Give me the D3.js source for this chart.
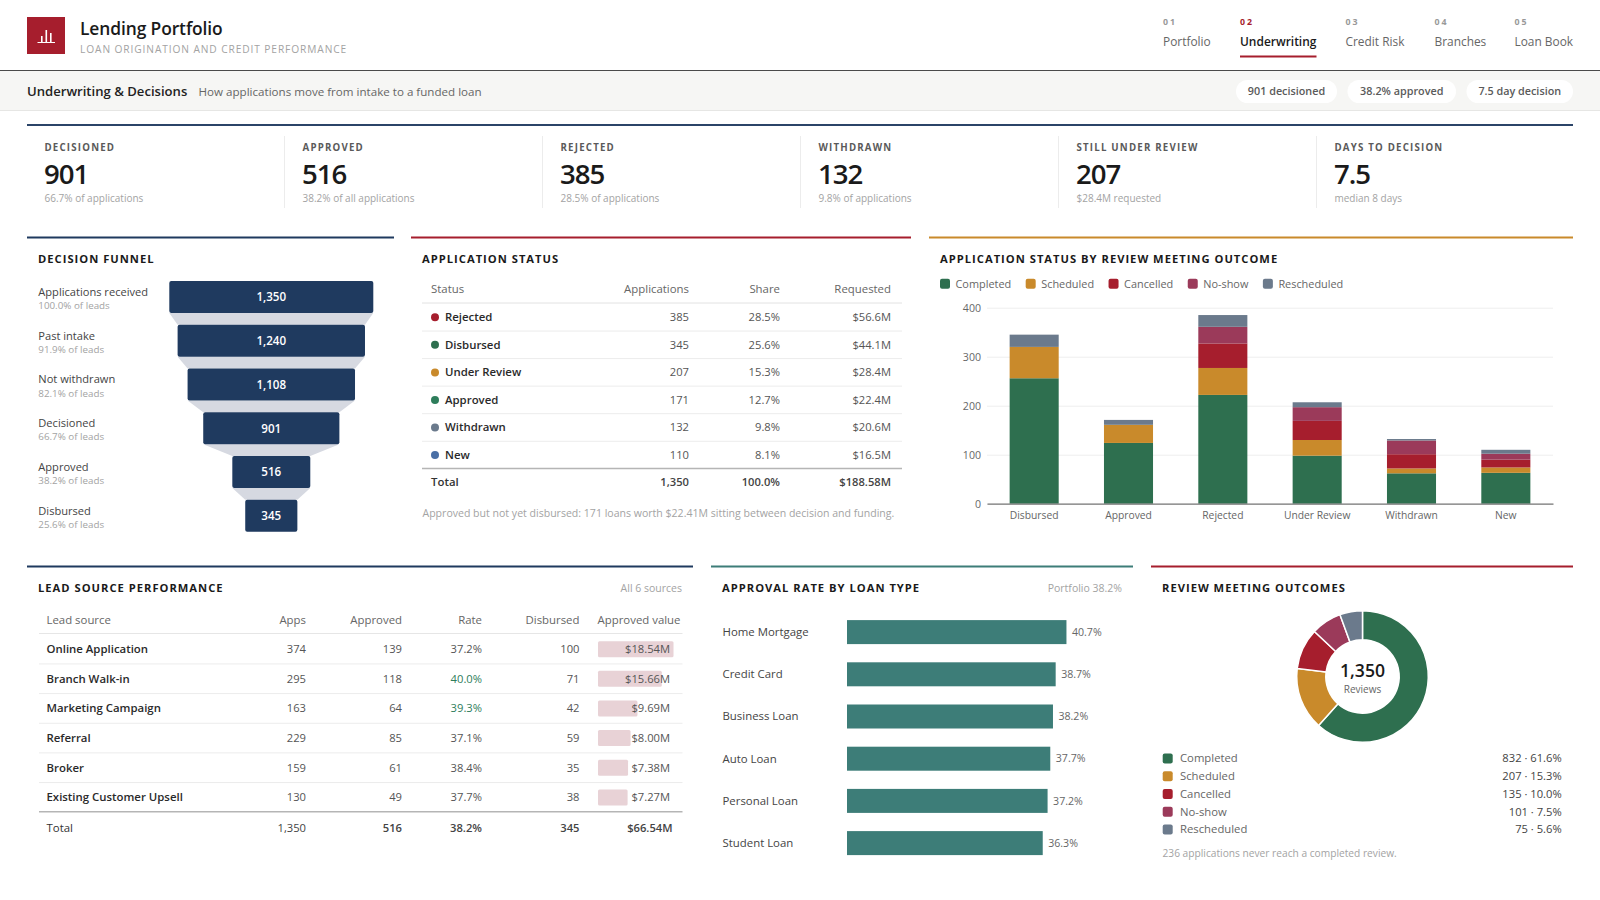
<!DOCTYPE html>
<html>
<head>
<meta charset="utf-8">
<title>Lending Portfolio</title>
<script src="https://cdn.jsdelivr.net/npm/d3@7"></script>
<style>
  html, body { margin: 0; padding: 0; background: #fff; }
  svg { display: block; font-family: "Open Sans", "Noto Sans", sans-serif; }
</style>
</head>
<body>
<svg id="page" width="1600" height="900"></svg>
<script>
// ---- data ----
var navLabels = ["Portfolio", "Underwriting", "Credit Risk", "Branches", "Loan Book"];
var navNumbers = ["01", "02", "03", "04", "05"];
var chips = ["901 decisioned", "38.2% approved", "7.5 day decision"];

var kpiLabels = ["DECISIONED", "APPROVED", "REJECTED", "WITHDRAWN", "STILL UNDER REVIEW", "DAYS TO DECISION"];
var kpiValues = ["901", "516", "385", "132", "207", "7.5"];
var kpiNotes = ["66.7% of applications", "38.2% of all applications", "28.5% of applications", "9.8% of applications", "$28.4M requested", "median 8 days"];

var funnelStages = ["Applications received", "Past intake", "Not withdrawn", "Decisioned", "Approved", "Disbursed"];
var funnelValues = [1350, 1240, 1108, 901, 516, 345];
var funnelShares = ["100.0%", "91.9%", "82.1%", "66.7%", "38.2%", "25.6%"];

var statusNames = ["Rejected", "Disbursed", "Under Review", "Approved", "Withdrawn", "New"];
var statusApps = ["385", "345", "207", "171", "132", "110"];
var statusShare = ["28.5%", "25.6%", "15.3%", "12.7%", "9.8%", "8.1%"];
var statusRequested = ["$56.6M", "$44.1M", "$28.4M", "$22.4M", "$20.6M", "$16.5M"];
var statusColors = ["#a61e2d", "#2e6f4f", "#c98a2b", "#2e7d5b", "#6b7a8c", "#4a6fa5"];

var outcomeNames = ["Completed", "Scheduled", "Cancelled", "No-show", "Rescheduled"];
var outcomeColors = ["#2e6f4f", "#c98a2b", "#a61e2d", "#9b3a5a", "#6b7a8c"];
var stackCategories = ["Disbursed", "Approved", "Rejected", "Under Review", "Withdrawn", "New"];
var completedCounts = [256, 124, 222, 98, 62, 63];
var scheduledCounts = [64, 37, 55, 32, 10, 11];
var cancelledCounts = [0, 0, 50, 39, 29, 16];
var noShowCounts = [0, 0, 34, 28, 28, 12];
var rescheduledCounts = [25, 10, 24, 10, 3, 8];
var stackTicks = [0, 100, 200, 300, 400];

var leadSources = ["Online Application", "Branch Walk-in", "Marketing Campaign", "Referral", "Broker", "Existing Customer Upsell"];
var leadApps = ["374", "295", "163", "229", "159", "130"];
var leadApproved = ["139", "118", "64", "85", "61", "49"];
var leadRate = ["37.2%", "40.0%", "39.3%", "37.1%", "38.4%", "37.7%"];
var leadDisbursed = ["100", "71", "42", "59", "35", "38"];
var leadValue = [18.54, 15.66, 9.69, 8.00, 7.38, 7.27];

var loanTypes = ["Home Mortgage", "Credit Card", "Business Loan", "Auto Loan", "Personal Loan", "Student Loan"];
var loanRates = [40.7, 38.7, 38.2, 37.7, 37.2, 36.3];

var donutCounts = [832, 207, 135, 101, 75];
var donutShares = ["61.6%", "15.3%", "10.0%", "7.5%", "5.6%"];

// ---- colours ----
var NAVY = "#1f3a5f", CRIMSON = "#a61e2d", AMBER = "#c98a2b", TEAL = "#3d7d78";
var INK = "#1a1a1a", BODY = "#444", MUTED = "#666", FAINT = "#a3a3a3", RULE = "#ececec";

var svg = d3.select("#page");

// small helper so every label is written the same way
function label(g, x, y, s, o) {
  o = o || {};
  return g.append("text")
    .attr("x", x).attr("y", y).attr("dy", "0.35em")
    .attr("text-anchor", o.anchor || "start")
    .attr("font-size", o.size || 12)
    .attr("font-weight", o.weight || 400)
    .attr("fill", o.fill || BODY)
    .attr("letter-spacing", o.spacing || 0)
    .text(s);
}

function hline(g, x1, x2, y, color, w) {
  g.append("line").attr("x1", x1).attr("x2", x2).attr("y1", y).attr("y2", y)
    .attr("stroke", color).attr("stroke-width", w || 1);
}

function card(x1, x2, y, color, title, note) {
  hline(svg, x1, x2, y, color, 2);
  label(svg, x1 + 11, y + 22, title, {size: 11.2, weight: 700, fill: INK, spacing: 1});
  if (note) label(svg, x2 - 11, y + 22, note, {size: 10.5, fill: FAINT, anchor: "end"});
}

// ---- header ----
var head = svg.append("g");
head.append("rect").attr("x", 27).attr("y", 17).attr("width", 38).attr("height", 37).attr("fill", CRIMSON);
var iconBars = [6, 12, 9];
iconBars.forEach(function(h, i) {
  head.append("rect").attr("x", 41 + i * 4.5).attr("y", 42 - h).attr("width", 1.6).attr("height", h).attr("fill", "#fff");
});
hline(head, 37.5, 55, 42.5, "#fff", 1);
label(head, 80, 29, "Lending Portfolio", {size: 17.4, weight: 600, fill: INK, spacing: -0.1});
label(head, 80, 49, "LOAN ORIGINATION AND CREDIT PERFORMANCE", {size: 10.2, fill: FAINT, spacing: 0.9});

var navX = [1163, 1240, 1345.5, 1434.5, 1514.5];
navLabels.forEach(function(n, i) {
  var on = i === 1;
  label(head, navX[i], 22, navNumbers[i], {size: 8.8, weight: 700, fill: on ? CRIMSON : "#999", spacing: 2});
  label(head, navX[i], 41.5, n, {size: on ? 11.95 : 11.9, weight: on ? 600 : 400, fill: on ? INK : MUTED});
});
hline(head, 1240, 1316.5, 56.5, CRIMSON, 2);
hline(svg, 0, 1600, 70.5, "#4a4a4a", 1);

// ---- sub header ----
var sub = svg.append("g");
sub.append("rect").attr("x", 0).attr("y", 71).attr("width", 1600).attr("height", 39).attr("fill", "#f6f6f4");
hline(sub, 0, 1600, 110.5, "#e6e6e4", 1);
label(sub, 27, 91.5, "Underwriting & Decisions", {size: 13.1, weight: 600, fill: "#222"});
label(sub, 198.5, 91.5, "How applications move from intake to a funded loan", {size: 11.6, fill: MUTED});
var chipX = [[1236, 1337], [1347.5, 1456], [1466.5, 1573]];
chips.forEach(function(c, i) {
  sub.append("rect").attr("x", chipX[i][0]).attr("y", 80).attr("width", chipX[i][1] - chipX[i][0]).attr("height", 23)
    .attr("rx", 11.5).attr("fill", "#fff");
  label(sub, (chipX[i][0] + chipX[i][1]) / 2, 91.5, c, {size: 10.8, weight: 600, fill: "#5a5a5a", anchor: "middle"});
});

// ---- kpi row ----
var kpiG = svg.append("g");
hline(kpiG, 27, 1573, 125, "#2b4468", 2);
kpiLabels.forEach(function(k, i) {
  var x = 44.5 + i * 258;
  label(kpiG, x, 147.5, k, {size: 9.7, weight: 700, fill: "#5a5a5a", spacing: 1.2});
  label(kpiG, x - 0.5, 174.2, kpiValues[i], {size: 27.6, weight: 600, fill: INK, spacing: -1});
  label(kpiG, x, 198, kpiNotes[i], {size: 10, fill: FAINT});
  if (i > 0) kpiG.append("line").attr("x1", x - 18).attr("x2", x - 18).attr("y1", 136).attr("y2", 208).attr("stroke", "#ececec");
});

// ---- decision funnel ----
card(27, 394, 237.5, NAVY, "DECISION FUNNEL");
var funnelG = svg.append("g");
var funnelW = d3.scaleLinear().domain([0, 1350]).range([0, 204]);
var funnelY = d3.scaleBand().domain(funnelStages).range([281, 281 + 43.75 * 6 - 11.75]).paddingInner(11.75 / 43.75).paddingOuter(0);
var funnelCx = 271.3;
var trapezoid = d3.line();
funnelValues.forEach(function(v, i) {
  if (i === funnelValues.length - 1) return;
  var yTop = funnelY(funnelStages[i]) + funnelY.bandwidth();
  var yBot = funnelY(funnelStages[i + 1]);
  var a = funnelW(v) / 2, b = funnelW(funnelValues[i + 1]) / 2;
  funnelG.append("path").attr("fill", "#d6d9e1")
    .attr("d", trapezoid([[funnelCx - a, yTop], [funnelCx + a, yTop], [funnelCx + b, yBot], [funnelCx - b, yBot]]) + "Z");
});
funnelG.selectAll(".fbar").data(funnelValues).enter().append("rect")
  .attr("class", "fbar")
  .attr("x", function(d) { return funnelCx - funnelW(d) / 2; })
  .attr("y", function(d, i) { return funnelY(funnelStages[i]); })
  .attr("width", function(d) { return funnelW(d); })
  .attr("height", funnelY.bandwidth())
  .attr("rx", 2).attr("fill", NAVY);
funnelValues.forEach(function(v, i) {
  var mid = funnelY(funnelStages[i]) + funnelY.bandwidth() / 2;
  label(funnelG, funnelCx, mid + 0.4, d3.format(",")(v), {size: 11.6, weight: 600, fill: "#fff", anchor: "middle"});
  label(funnelG, 38.3, mid - 5, funnelStages[i], {size: 11.1, fill: BODY});
  label(funnelG, 38.3, mid + 8.7, funnelShares[i] + " of leads", {size: 9.8, fill: FAINT});
});

// ---- application status table ----
card(411, 911, 237.5, CRIMSON, "APPLICATION STATUS");
var stG = svg.append("g");
var stRowY = d3.scaleBand().domain(statusNames).range([303.5, 303.5 + 27.55 * 6]);
var stRight = [689, 780, 891];
label(stG, 431, 289.5, "Status", {size: 11.4, fill: MUTED});
["Applications", "Share", "Requested"].forEach(function(h, i) {
  label(stG, stRight[i], 289.5, h, {size: 11.4, fill: MUTED, anchor: "end"});
});
hline(stG, 422, 902, 303, "#e2e2e2", 1);
statusNames.forEach(function(n, i) {
  var y = stRowY(n) + stRowY.bandwidth() / 2;
  stG.append("circle").attr("cx", 435).attr("cy", y).attr("r", 4).attr("fill", statusColors[i]);
  label(stG, 445, y, n, {size: 11.4, weight: 600, fill: "#2a2a2a"});
  label(stG, stRight[0], y, statusApps[i], {size: 11.2, fill: "#555", anchor: "end"});
  label(stG, stRight[1], y, statusShare[i], {size: 11.2, fill: "#555", anchor: "end"});
  label(stG, stRight[2], y, statusRequested[i], {size: 11.2, fill: "#555", anchor: "end"});
  if (i < statusNames.length - 1) hline(stG, 422, 902, stRowY(n) + stRowY.bandwidth(), RULE, 1);
});
hline(stG, 422, 902, 468.5, "#b5b5b5", 1.5);
label(stG, 431, 482, "Total", {size: 11.4, weight: 600, fill: "#333"});
label(stG, stRight[0], 482, "1,350", {size: 11.2, weight: 600, fill: "#444", anchor: "end"});
label(stG, stRight[1], 482, "100.0%", {size: 11.2, weight: 600, fill: "#444", anchor: "end"});
label(stG, stRight[2], 482, "$188.58M", {size: 11.2, weight: 600, fill: "#444", anchor: "end"});
label(stG, 422.5, 513, "Approved but not yet disbursed: 171 loans worth $22.41M sitting between decision and funding.", {size: 10.55, fill: FAINT});

// ---- stacked bars ----
card(929, 1573, 237.5, AMBER, "APPLICATION STATUS BY REVIEW MEETING OUTCOME");
var chartG = svg.append("g");
var legendX = 940;
outcomeNames.forEach(function(n, i) {
  chartG.append("rect").attr("x", legendX).attr("y", 278.7).attr("width", 10).attr("height", 10).attr("rx", 2).attr("fill", outcomeColors[i]);
  var t = label(chartG, legendX + 15.5, 283.7, n, {size: 10.9, fill: MUTED});
  legendX += 15.5 + t.node().getComputedTextLength() + 14.5;
});
var stackRows = stackCategories.map(function(c, i) {
  return {cat: c, Completed: completedCounts[i], Scheduled: scheduledCounts[i], Cancelled: cancelledCounts[i], "No-show": noShowCounts[i], Rescheduled: rescheduledCounts[i]};
});
var xStack = d3.scaleBand().domain(stackCategories).range([987, 1553]).paddingInner(0.48).paddingOuter(0.24);
var yStack = d3.scaleLinear().domain([0, 400]).range([503.7, 307.7]);
var yAxis = chartG.append("g").attr("transform", "translate(987,0)")
  .call(d3.axisLeft(yStack).tickValues(stackTicks).tickSize(-566).tickPadding(6))
  .attr("font-family", null);
yAxis.select(".domain").remove();
yAxis.selectAll("line").attr("stroke", "#eeeeee");
yAxis.selectAll("text").attr("font-size", 10.6).attr("fill", "#666");
chartG.append("g").selectAll("g").data(d3.stack().keys(outcomeNames)(stackRows)).enter().append("g")
  .attr("fill", function(d, i) { return outcomeColors[i]; })
  .selectAll("rect").data(function(d) { return d; }).enter().append("rect")
  .attr("x", function(d) { return xStack(d.data.cat); })
  .attr("y", function(d) { return yStack(d[1]); })
  .attr("width", xStack.bandwidth())
  .attr("height", function(d) { return yStack(d[0]) - yStack(d[1]); });
var xAxis = chartG.append("g").attr("transform", "translate(0,503.7)")
  .call(d3.axisBottom(xStack).tickSize(0).tickPadding(8))
  .attr("font-family", null);
xAxis.select(".domain").attr("stroke", "#777").attr("stroke-width", 1.2);
xAxis.selectAll("text").attr("font-size", 10.3).attr("fill", "#666");

// ---- lead source table ----
card(27, 693, 566.5, NAVY, "LEAD SOURCE PERFORMANCE", "All 6 sources");
var leadG = svg.append("g");
var leadRowY = d3.scaleBand().domain(leadSources).range([634.3, 634.3 + 29.65 * 6]);
var leadRight = [306, 402, 482, 579.5];
var leadBar = d3.scaleLinear().domain([0, 18.54]).range([0, 75.5]);
label(leadG, 46.5, 620, "Lead source", {size: 11.4, fill: MUTED});
["Apps", "Approved", "Rate", "Disbursed"].forEach(function(h, i) {
  label(leadG, leadRight[i], 620, h, {size: 11.4, fill: MUTED, anchor: "end"});
});
label(leadG, 680.5, 620, "Approved value", {size: 11.4, fill: MUTED, anchor: "end"});
hline(leadG, 39, 682.5, 633.5, "#e6e6e6", 1);
leadSources.forEach(function(n, i) {
  var top = leadRowY(n), y = top + leadRowY.bandwidth() / 2;
  leadG.append("rect").attr("x", 598).attr("y", y - 8).attr("width", leadBar(leadValue[i])).attr("height", 16)
    .attr("rx", 1.5).attr("fill", "#e8d2d6");
  label(leadG, 46.5, y, n, {size: 11.4, weight: 600, fill: "#2a2a2a"});
  label(leadG, leadRight[0], y, leadApps[i], {size: 11.2, fill: "#555", anchor: "end"});
  label(leadG, leadRight[1], y, leadApproved[i], {size: 11.2, fill: "#555", anchor: "end"});
  var good = i === 1 || i === 2;
  label(leadG, leadRight[2], y, leadRate[i], {size: 11.2, fill: good ? "#2e7d5b" : "#555", anchor: "end"});
  label(leadG, leadRight[3], y, leadDisbursed[i], {size: 11.2, fill: "#555", anchor: "end"});
  label(leadG, 670, y, d3.format("$.2f")(leadValue[i]) + "M", {size: 11.2, fill: "#555", anchor: "end"});
  if (i < leadSources.length - 1) hline(leadG, 39, 682.5, top + leadRowY.bandwidth(), RULE, 1);
});
hline(leadG, 39, 682.5, 811.7, "#b5b5b5", 1.5);
label(leadG, 46.5, 828, "Total", {size: 11.4, fill: "#333"});
["1,350", "516", "38.2%", "345"].forEach(function(t, i) {
  label(leadG, leadRight[i], 828, t, {size: 11.2, weight: i === 0 ? 400 : 600, fill: "#444", anchor: "end"});
});
label(leadG, 672.5, 828, "$66.54M", {size: 11.2, weight: 600, fill: "#444", anchor: "end"});

// ---- approval rate bars ----
card(711, 1133, 566.5, TEAL, "APPROVAL RATE BY LOAN TYPE", "Portfolio 38.2%");
var rateG = svg.append("g");
var rateY = d3.scaleBand().domain(loanTypes).range([611, 611 + 42.2 * 6]).paddingInner(18.2 / 42.2).paddingOuter(9.1 / 42.2);
var rateX = d3.scaleLinear().domain([0, 50]).range([847, 847 + 269.6]);
rateG.selectAll("rect").data(loanRates).enter().append("rect")
  .attr("x", rateX(0))
  .attr("y", function(d, i) { return rateY(loanTypes[i]); })
  .attr("width", function(d) { return rateX(d) - rateX(0); })
  .attr("height", rateY.bandwidth())
  .attr("fill", TEAL);
loanRates.forEach(function(r, i) {
  var y = rateY(loanTypes[i]) + rateY.bandwidth() / 2;
  label(rateG, 722.5, y, loanTypes[i], {size: 11.4, fill: BODY});
  label(rateG, rateX(r) + 5.5, y, r + "%", {size: 10.6, fill: MUTED});
});

// ---- donut ----
card(1151, 1573, 566.5, CRIMSON, "REVIEW MEETING OUTCOMES");
var donutG = svg.append("g");
var ring = donutG.append("g").attr("transform", "translate(1362.5,676.5)");
var pie = d3.pie().sort(null)(donutCounts);
var arc = d3.arc().innerRadius(36.7).outerRadius(65.8);
ring.selectAll("path").data(pie).enter().append("path")
  .attr("d", arc)
  .attr("fill", function(d, i) { return outcomeColors[i]; })
  .attr("stroke", "#fff").attr("stroke-width", 1.5);
label(ring, 0, -5.5, "1,350", {size: 17.6, weight: 600, fill: INK, anchor: "middle"});
label(ring, 0, 13, "Reviews", {size: 10, fill: MUTED, anchor: "middle"});
var donutLegendY = d3.scaleBand().domain(outcomeNames).range([749.5, 749.5 + 17.75 * 5]);
outcomeNames.forEach(function(n, i) {
  var y = donutLegendY(n) + donutLegendY.bandwidth() / 2;
  donutG.append("rect").attr("x", 1162.7).attr("y", y - 5).attr("width", 10).attr("height", 10).attr("rx", 2).attr("fill", outcomeColors[i]);
  label(donutG, 1180, y, n, {size: 11.3, fill: MUTED});
  label(donutG, 1561.7, y, donutCounts[i] + " · " + donutShares[i], {size: 11.2, fill: "#444", anchor: "end"});
});
label(donutG, 1162.5, 853, "236 applications never reach a completed review.", {size: 10.2, fill: FAINT});
</script>
</body>
</html>
